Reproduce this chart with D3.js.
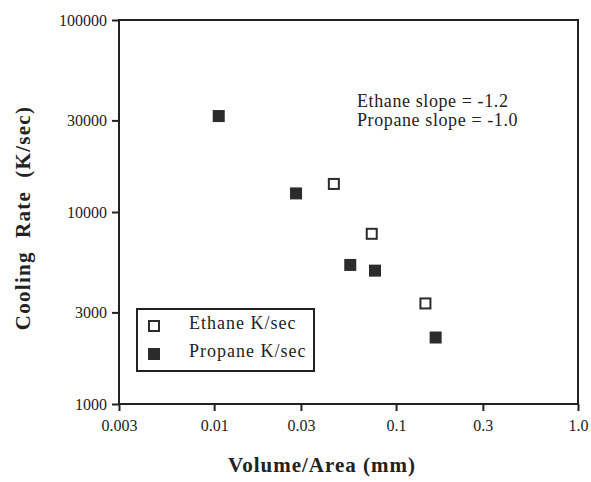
<!DOCTYPE html>
<html>
<head>
<meta charset="utf-8">
<script src="https://cdn.jsdelivr.net/npm/d3@7"></script>
<style>
  body { margin: 0; background: #fff; }
  text { font-family: "Liberation Serif", "DejaVu Serif", serif; fill: #222; }
</style>
</head>
<body>
<svg width="591" height="482"></svg>
<script>
// data
const ethaneX = [0.0455, 0.0735, 0.145];
const ethaneY = [14000, 7700, 3340];
const propaneX = [0.0106, 0.0282, 0.056, 0.0766, 0.165];
const propaneY = [31600, 12500, 5300, 4950, 2220];

const xTicks = [0.003, 0.01, 0.03, 0.1, 0.3, 1.0];
const xTickLabels = ["0.003", "0.01", "0.03", "0.1", "0.3", "1.0"];
const yTicks = [1000, 3000, 10000, 30000, 100000];
const yTickLabels = ["1000", "3000", "10000", "30000", "100000"];

const legendLabels = ["Ethane K/sec", "Propane K/sec"];
const notes = ["Ethane slope = -1.2", "Propane slope = -1.0"];

var svg = d3.select("svg");
var plotL = 119, plotR = 578, plotT = 20, plotB = 404;

var x = d3.scaleLog().domain([0.003, 1]).range([plotL, plotR]);
var y = d3.scaleLog().domain([1000, 100000]).range([plotB, plotT]);

// frame
svg.append("rect")
    .attr("x", plotL).attr("y", plotT)
    .attr("width", plotR - plotL).attr("height", plotB - plotT)
    .attr("fill", "none").attr("stroke", "#222").attr("stroke-width", 2);

var xAxis = svg.append("g")
    .attr("transform", "translate(0," + plotB + ")")
    .call(d3.axisBottom(x).tickValues(xTicks)
        .tickFormat((d, i) => xTickLabels[i]).tickSize(7).tickPadding(9));

var yAxis = svg.append("g")
    .attr("transform", "translate(" + plotL + ",0)")
    .call(d3.axisLeft(y).tickValues(yTicks)
        .tickFormat((d, i) => yTickLabels[i]).tickSize(7).tickPadding(5));

[xAxis, yAxis].forEach(g => {
    g.select(".domain").remove();
    g.selectAll("line").attr("stroke", "#222").attr("stroke-width", 2);
    g.selectAll("text")
        .attr("fill", "#222")
        .style("font-family", "'Liberation Serif', serif")
        .style("font-size", "16px");
});

// points
var size = 12;

svg.append("g").selectAll("rect")
    .data(propaneX.map((d, i) => [d, propaneY[i]]))
    .enter().append("rect")
    .attr("x", d => x(d[0]) - size / 2)
    .attr("y", d => y(d[1]) - size / 2)
    .attr("width", size).attr("height", size)
    .attr("fill", "#2b2b2b");

svg.append("g").selectAll("rect")
    .data(ethaneX.map((d, i) => [d, ethaneY[i]]))
    .enter().append("rect")
    .attr("x", d => x(d[0]) - size / 2 + 1)
    .attr("y", d => y(d[1]) - size / 2 + 1)
    .attr("width", size - 2).attr("height", size - 2)
    .attr("fill", "#fff").attr("stroke", "#2b2b2b").attr("stroke-width", 2);

// legend
var legend = svg.append("g");
legend.append("rect")
    .attr("x", 137).attr("y", 309).attr("width", 177).attr("height", 62)
    .attr("fill", "#fff").attr("stroke", "#222").attr("stroke-width", 2);

legend.append("rect")
    .attr("x", 149).attr("y", 321).attr("width", 10).attr("height", 10)
    .attr("fill", "#fff").attr("stroke", "#2b2b2b").attr("stroke-width", 2);
legend.append("rect")
    .attr("x", 148).attr("y", 348).attr("width", 12).attr("height", 12)
    .attr("fill", "#2b2b2b");

legend.selectAll("text.lbl")
    .data(legendLabels)
    .enter().append("text")
    .attr("class", "lbl")
    .attr("x", 189)
    .attr("y", (d, i) => 329 + i * 28)
    .style("font-size", "18px")
    .style("letter-spacing", "1px")
    .text(d => d);

// slope notes
svg.selectAll("text.note")
    .data(notes)
    .enter().append("text")
    .attr("class", "note")
    .attr("x", 357)
    .attr("y", (d, i) => 107 + i * 19)
    .style("font-size", "18px")
    .style("letter-spacing", "0.6px")
    .text(d => d);

// axis titles
svg.append("text")
    .attr("x", 322).attr("y", 472)
    .attr("text-anchor", "middle")
    .style("font-size", "21px").style("font-weight", "bold")
    .style("letter-spacing", "1px")
    .text("Volume/Area (mm)");

svg.append("text")
    .attr("transform", "translate(30,218) rotate(-90)")
    .attr("text-anchor", "middle")
    .style("font-size", "21px").style("font-weight", "bold")
    .style("letter-spacing", "1.3px")
    .style("white-space", "pre")
    .text("Cooling  Rate  (K/sec)");
</script>
</body>
</html>
